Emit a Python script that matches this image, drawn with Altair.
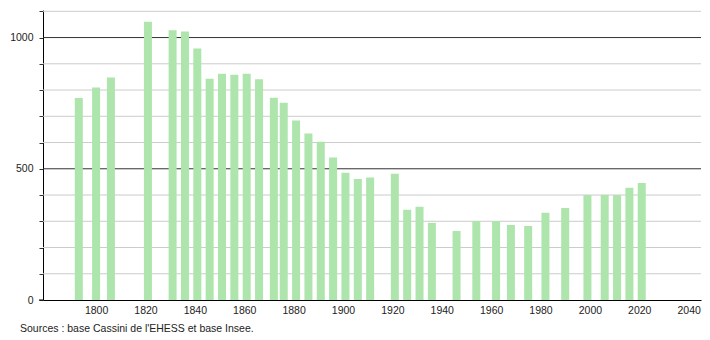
import altair as alt
import pandas as pd

years = [1793, 1800, 1806, 1821, 1831, 1836, 1841, 1846, 1851, 1856, 1861, 1866,
         1872, 1876, 1881, 1886, 1891, 1896, 1901, 1906, 1911, 1921, 1926, 1931,
         1936, 1946, 1954, 1962, 1968, 1975, 1982, 1990, 1999, 2006, 2011, 2016, 2021]
population = [770, 810, 848, 1060, 1028, 1023, 958, 843, 862, 858, 862, 841,
              771, 752, 684, 634, 603, 543, 485, 461, 467, 481, 344, 355,
              294, 263, 301, 301, 286, 282, 332, 351, 400, 400, 400, 428, 446]

x_ticks = list(range(1800, 2041, 20))
y_ticks = list(range(0, 1101, 100))
minor_grid = [100, 200, 300, 400, 600, 700, 800, 900, 1100]
major_grid = [500, 1000]
source = ["Sources : base Cassini de l'EHESS et base Insee."]

FONT = "Liberation Sans"

df = pd.DataFrame({"year": years, "pop": population})

xscale = alt.Scale(domain=[1778.5, 2045], nice=False, zero=False, padding=0)
yscale = alt.Scale(domain=[0, 1105], nice=False, padding=0)

yaxis = alt.Axis(values=y_ticks, format="d",
                 labelExpr="datum.value % 500 == 0 ? datum.label : ''",
                 grid=False, tickSize=4, tickColor="#333333",
                 title=None, labelFont=FONT, labelFontSize=10.5,
                 labelColor="#222222", domainColor="#000000",
                 labelPadding=6)
xaxis = alt.Axis(values=x_ticks, format="d", grid=False, ticks=False,
                 title=None, labelFont=FONT, labelFontSize=10.5,
                 labelColor="#222222", domainColor="#000000",
                 labelPadding=5)

minor = alt.Chart(pd.DataFrame({"v": minor_grid})).mark_rule(
    color="#cccccc", strokeWidth=1
).encode(y=alt.Y("v:Q", scale=yscale, axis=yaxis))

major = alt.Chart(pd.DataFrame({"v": major_grid})).mark_rule(
    color="#333333", strokeWidth=1
).encode(y=alt.Y("v:Q", scale=yscale, axis=yaxis))

bars = alt.Chart(df).mark_bar(color="#ade5ad", size=8).encode(
    x=alt.X("year:Q", scale=xscale, axis=xaxis),
    y=alt.Y("pop:Q", scale=yscale, axis=yaxis),
)

axis_stub = alt.Chart(pd.DataFrame({"v": [0]})).mark_rule(
    color="#000000", strokeWidth=1
).encode(x=alt.value(-4), x2=alt.value(0), y=alt.Y("v:Q", scale=yscale, axis=yaxis))

note = alt.Chart(pd.DataFrame({"t": source})).mark_text(
    align="left", baseline="middle", font=FONT, fontSize=10.5, color="#222222"
).encode(text="t:N", x=alt.value(-23), y=alt.value(319))

chart = alt.layer(minor, major, bars, axis_stub, note).properties(
    width=658, height=290,
    padding={"left": 43, "top": 10, "right": 9, "bottom": 40},
    autosize="none",
).configure_view(stroke=None)

chart.save("out.html", embed_options={"renderer": "svg", "actions": False})
